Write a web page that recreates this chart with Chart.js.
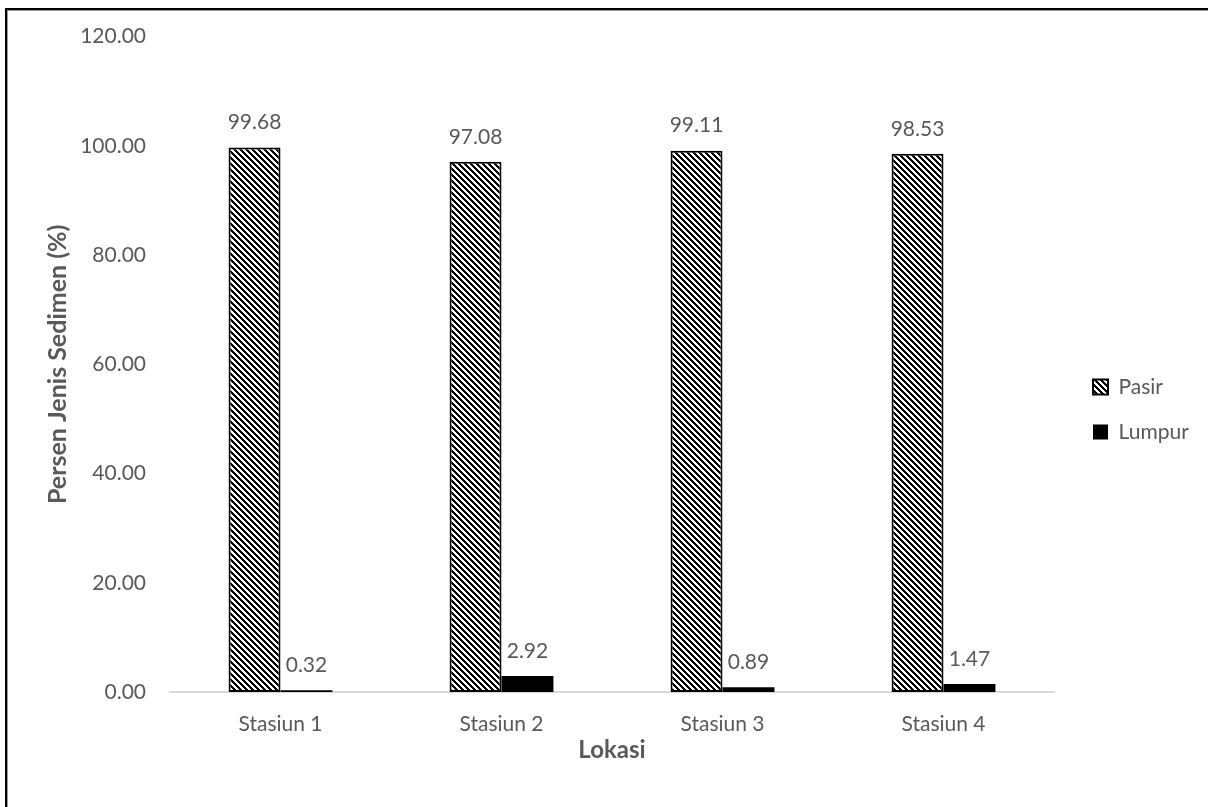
<!DOCTYPE html>
<html><head><meta charset="utf-8">
<script src="https://cdn.jsdelivr.net/npm/chart.js@4.4.0/dist/chart.umd.min.js"></script>
<style>
html,body{margin:0;padding:0;background:#fff;overflow:hidden;}
#frame{position:absolute;left:5px;top:8px;width:1400px;height:1000px;border-left:2px solid #000;border-top:2px solid #000;box-shadow:inset 1px 1px 0 #9a9a9a;}
#wrap{position:absolute;left:0;top:0;width:1208px;height:807px;}
</style></head><body>
<div id="frame"></div>
<div id="wrap"><canvas id="c" width="1208" height="807"></canvas></div>
<script>
const categories = ['Stasiun 1', 'Stasiun 2', 'Stasiun 3', 'Stasiun 4'];
const pasirValues = [99.68, 97.08, 99.11, 98.53];
const lumpurValues = [0.32, 2.92, 0.89, 1.47];
const seriesNames = ['Pasir', 'Lumpur'];
const yTicks = [0, 20, 40, 60, 80, 100, 120];
const yTitle = 'Persen Jenis Sedimen (%)';
const xTitle = 'Lokasi';

const FONT = 'Lato';
const TXT = '#595959';

function makePattern() {
  const t = document.createElement('canvas');
  t.width = 6; t.height = 6;
  const c = t.getContext('2d');
  const img = c.createImageData(6, 6);
  for (let y = 0; y < 6; y++) for (let x = 0; x < 6; x++) {
    const k = (y * 6 + x) * 4;
    const black = ((x - y + 12) % 6) < 3;
    const v = black ? 0 : 255;
    img.data[k] = v; img.data[k + 1] = v; img.data[k + 2] = v; img.data[k + 3] = 255;
  }
  c.putImageData(img, 0, 0);
  return document.getElementById('c').getContext('2d').createPattern(t, 'repeat');
}

const valueLabels = {
  id: 'valueLabels',
  afterDatasetsDraw(chart) {
    const ctx = chart.ctx;
    ctx.save();
    ctx.font = '21px ' + FONT;
    ctx.fillStyle = TXT;
    ctx.textAlign = 'center';
    ctx.textBaseline = 'middle';
    chart.data.datasets.forEach((ds, i) => {
      const meta = chart.getDatasetMeta(i);
      meta.data.forEach((bar, j) => {
        ctx.fillText(ds.data[j].toFixed(2), bar.x, bar.y - 25);
      });
    });
    ctx.restore();
  }
};

const legendPlace = {
  id: 'legendPlace',
  beforeLayout(chart) {
    const lg = chart.legend;
    if (lg && !lg._fixed) {
      const orig = lg.fit.bind(lg);
      lg.fit = function () { orig(); this.width = 154; };
      lg._fixed = true;
    }
  },
  afterLayout(chart) {
    const lg = chart.legend;
    if (lg) { lg.left = 1069; lg.right = 1208; lg.top = 0; lg.bottom = 819; }
  }
};

new Chart(document.getElementById('c'), {
  type: 'bar',
  data: {
    labels: categories,
    datasets: [
      { label: seriesNames[0], data: pasirValues, backgroundColor: makePattern(), borderColor: '#000', borderWidth: 2, borderSkipped: false },
      { label: seriesNames[1], data: lumpurValues, backgroundColor: '#000', borderColor: '#000', borderWidth: 0 }
    ]
  },
  options: {
    responsive: false,
    devicePixelRatio: 1,
    animation: false,
    categoryPercentage: 0.47,
    barPercentage: 1,
    layout: { padding: { left: 43, right: 0, top: 25, bottom: 40 } },
    plugins: {
      tooltip: { enabled: false },
      legend: {
        position: 'right',
        labels: { boxWidth: 15, boxHeight: 15, padding: 24, color: TXT, font: { family: FONT, size: 21 } }
      }
    },
    scales: {
      x: {
        afterFit(scale) { scale.height = 75; },
        grid: { display: false, drawTicks: false },
        border: { display: true, color: '#d9d9d9', width: 2 },
        ticks: { color: TXT, padding: 20, font: { family: FONT, size: 21 } },
        title: { display: true, text: xTitle, color: TXT, padding: { top: 0, bottom: 2 }, font: { family: FONT, size: 24, weight: 'bold' } }
      },
      y: {
        min: 0, max: 120,
        afterFit(scale) { scale.width = 127; },
        afterBuildTicks(scale) { scale.ticks = yTicks.map(v => ({ value: v })); },
        grid: { display: false, drawTicks: false },
        border: { display: false },
        ticks: { color: TXT, padding: 24, font: { family: FONT, size: 21 }, callback: v => Number(v).toFixed(2) },
        title: { display: true, text: yTitle, color: TXT, padding: 0, font: { family: FONT, size: 25, weight: 'bold' } }
      }
    }
  },
  plugins: [valueLabels, legendPlace]
});
</script>
</body></html>
